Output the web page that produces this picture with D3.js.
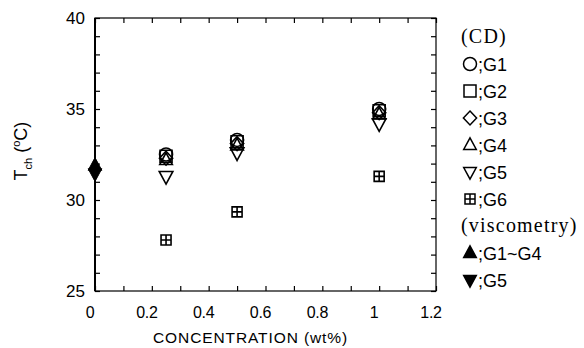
<!DOCTYPE html>
<html><head><meta charset="utf-8">
<script src="https://cdn.jsdelivr.net/npm/d3@7"></script>
<style>body{margin:0;background:#fff}svg{display:block}</style>
</head><body>
<svg id="c" width="584" height="348"></svg>
<script>
const concentrations = [0.25, 0.5, 1.0];
const G1 = [32.5, 33.3, 35.0];
const G2 = [32.4, 33.2, 34.9];
const G3 = [32.3, 33.1, 34.8];
const G4 = [32.2, 33.0, 34.7];
const G5 = [31.3, 32.6, 34.2];
const G6 = [27.8, 29.35, 31.3];
const viscX = [0];
const viscG1G4 = [31.9];
const viscG5 = [31.45];
const xTicks = [0, 0.2, 0.4, 0.6, 0.8, 1, 1.2];
const yTicks = [25, 30, 35, 40];
const legendLabels = ["(CD)", ";G1", ";G2", ";G3", ";G4", ";G5", ";G6", "(viscometry)", ";G1~G4", ";G5"];

const svg = d3.select("#c");
const m = {l:95, r:436, t:18, b:291};
const x = d3.scaleLinear().domain([0,1.2]).range([m.l,m.r]);
const y = d3.scaleLinear().domain([25,40]).range([m.b,m.t]);
const font = "'Liberation Sans', Arial, sans-serif";
const serif = "'Liberation Serif','Times New Roman',serif";

// frame
svg.append("rect").attr("x",m.l).attr("y",m.t).attr("width",m.r-m.l).attr("height",m.b-m.t)
  .attr("fill","none").attr("stroke","#000").attr("stroke-width",1.2);
svg.append("line").attr("x1",m.l).attr("x2",m.l).attr("y1",m.t).attr("y2",m.b).attr("stroke","#000").attr("stroke-width",2);

// axes with inward ticks
const xMinor = d3.range(0,1.2001,0.1);
const yMinor = d3.range(25,40.001,1);
const axB = d3.axisBottom(x).tickValues(xMinor).tickSize(-5).tickFormat("");
const axT = d3.axisTop(x).tickValues(xMinor).tickSize(-5).tickFormat("");
const axL = d3.axisLeft(y).tickValues(yMinor).tickSize(-5).tickFormat("");
const axR = d3.axisRight(y).tickValues(yMinor).tickSize(-5).tickFormat("");
[[axB,`translate(0,${m.b})`],[axT,`translate(0,${m.t})`],[axL,`translate(${m.l},0)`],[axR,`translate(${m.r},0)`]].forEach(([a,t])=>{
  const g = svg.append("g").attr("transform",t).call(a);
  g.select(".domain").remove();
  g.selectAll("line").attr("stroke","#000").attr("stroke-width",1.2);
});

// tick labels
svg.append("g").selectAll("text").data(xTicks).join("text")
  .attr("x",d=>x(d)-5).attr("y",318).attr("text-anchor","middle")
  .attr("font-family",font).attr("font-size",16).attr("letter-spacing",-0.3)
  .text(d=>d3.format("")(d));
svg.append("g").selectAll("text").data(yTicks).join("text")
  .attr("x",85).attr("y",d=>y(d)+5.5).attr("text-anchor","end")
  .attr("font-family",font).attr("font-size",17)
  .text(d=>d);

// axis titles
svg.append("text").attr("x",153).attr("y",343).attr("text-anchor","start")
  .attr("font-family",font).attr("font-size",15.5).attr("letter-spacing",0.9)
  .text("CONCENTRATION (wt%)");
const yl = svg.append("text").attr("transform","translate(27,151) rotate(-90)")
  .attr("text-anchor","middle").attr("font-family",font).attr("font-size",18);
yl.append("tspan").text("T");
yl.append("tspan").attr("font-size",11).attr("dy",5).text("ch");
yl.append("tspan").attr("dy",-5).text(" (");
yl.append("tspan").attr("font-size",11).attr("dy",-7).text("o");
yl.append("tspan").attr("dy",7).text("C)");

// marker shapes
function shapePath(type, s){
  const h = s/2;
  switch(type){
    case "circle": { const p=d3.path(); p.moveTo(h,0); p.arc(0,0,h,0,2*Math.PI); return p.toString(); }
    case "square": return `M${-h},${-h}H${h}V${h}H${-h}Z`;
    case "diamond": return `M0,${-h*1.15}L${h*1.1},0L0,${h*1.15}L${-h*1.1},0Z`;
    case "up": return `M0,${-h*1.2}L${h*1.05},${h*0.75}L${-h*1.05},${h*0.75}Z`;
    case "down": return `M0,${h*1.2}L${h*1.05},${-h*0.75}L${-h*1.05},${-h*0.75}Z`;
    case "grid": return `M${-h},${-h}H${h}V${h}H${-h}ZM0,${-h}V${h}M${-h},0H${h}`;
  }
}
const series = [
  {vals:G1, type:"circle", size:13},
  {vals:G2, type:"square", size:12},
  {vals:G3, type:"diamond", size:12},
  {vals:G4, type:"up", size:12},
  {vals:G5, type:"down", size:13},
  {vals:G6, type:"grid", size:10}
];
series.forEach(s=>{
  svg.append("g").selectAll("path").data(concentrations.map((c,i)=>[c,s.vals[i]])).join("path")
    .attr("transform",d=>`translate(${x(d[0])},${y(d[1])})`)
    .attr("d",shapePath(s.type,s.size)).attr("fill","none").attr("stroke","#000").attr("stroke-width",1.6);
});
svg.append("g").selectAll("path").data(viscX.map((c,i)=>[c,viscG1G4[i]])).join("path")
  .attr("transform",d=>`translate(${x(d[0])},${y(d[1])})`).attr("d",shapePath("up",13)).attr("fill","#000").attr("stroke","#000");
svg.append("g").selectAll("path").data(viscX.map((c,i)=>[c,viscG5[i]])).join("path")
  .attr("transform",d=>`translate(${x(d[0])},${y(d[1])})`).attr("d",shapePath("down",13)).attr("fill","#000").attr("stroke","#000");

// legend
const legTypes = [null,"circle","square","diamond","up","down","grid",null,"up","down"];
const legFill = [null,"none","none","none","none","none","none",null,"#000","#000"];
const legSize = [0,13,12,12,12,12,10,0,12,12];
const lg = svg.append("g");
legendLabels.forEach((lab,i)=>{
  const cy = 37 + i*27;
  if(legTypes[i]===null){
    lg.append("text").attr("x",461).attr("y",cy+6).attr("font-family",serif)
      .attr("font-size",20).attr("letter-spacing",1.2).text(lab);
  } else {
    lg.append("path").attr("transform",`translate(470,${cy})`).attr("d",shapePath(legTypes[i],legSize[i]))
      .attr("fill",legFill[i]).attr("stroke","#000").attr("stroke-width",1.5);
    lg.append("text").attr("x",478).attr("y",cy+6.5).attr("font-family",font).attr("font-size",18).text(lab);
  }
});
</script>
</body></html>
